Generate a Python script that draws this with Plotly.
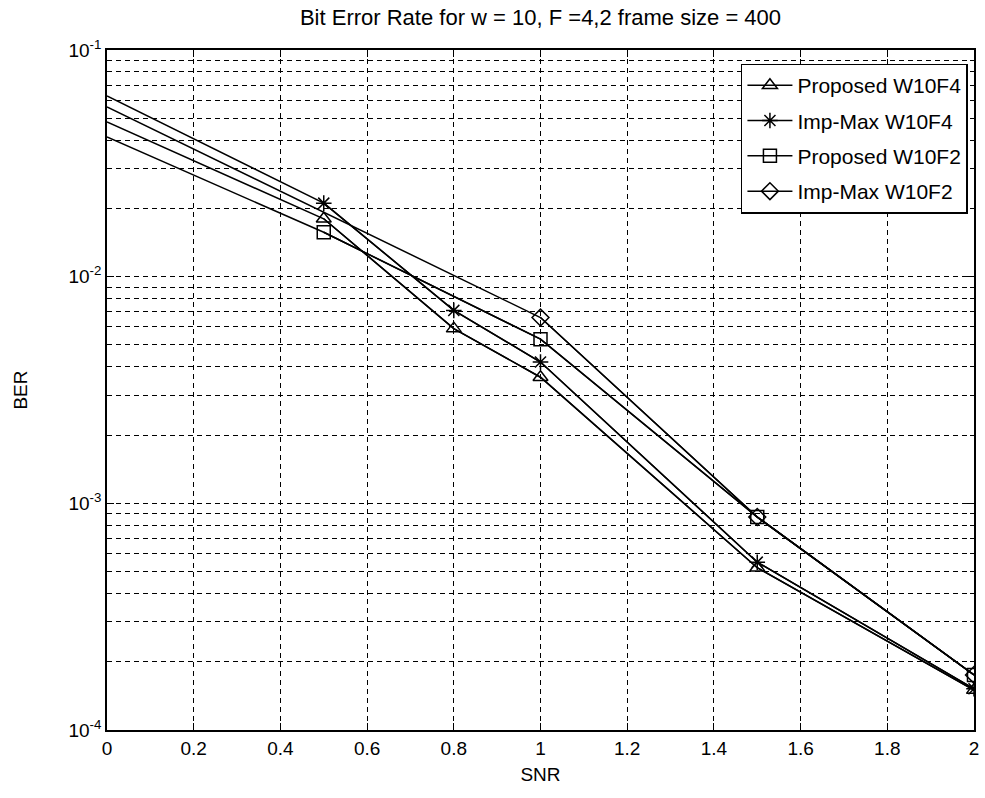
import plotly.graph_objects as go

# SNR sample points for each curve
snr_f4 = [0, 0.5, 0.8, 1, 1.5, 2]
snr_prop_f2 = [0, 0.5, 1, 1.5, 2]
snr_imp_f2 = [0, 1, 1.5, 2]

# Bit error rates
ber_prop_f4 = [0.0481, 0.0180, 0.0059, 0.0036, 5.2e-4, 1.5e-4]
ber_imp_f4 = [0.0627, 0.0211, 0.0071, 0.0042, 5.5e-4, 1.52e-4]
ber_prop_f2 = [0.0413, 0.0157, 0.0053, 8.7e-4, 1.75e-4]
ber_imp_f2 = [0.0561, 0.0066, 8.7e-4, 1.75e-4]

names = ["Proposed W10F4", "Imp-Max W10F4", "Proposed W10F2", "Imp-Max W10F2"]
symbols = ["triangle-up-open", "asterisk-open", "square-open", "diamond-open"]
xs = [snr_f4, snr_f4, snr_prop_f2, snr_imp_f2]
ys = [ber_prop_f4, ber_imp_f4, ber_prop_f2, ber_imp_f2]

x_ticks = [0, 0.2, 0.4, 0.6, 0.8, 1, 1.2, 1.4, 1.6, 1.8, 2]
decades = [-4, -3, -2, -1]

FONT = "Liberation Sans, Arial, sans-serif"
LINE = dict(color="black", width=1.5)

fig = go.Figure()
for i, (x, y, n, s) in enumerate(zip(xs, ys, names, symbols)):
    # full curve from SNR = 0
    fig.add_trace(go.Scatter(
        x=x, y=y, name=n, mode="lines", line=LINE,
        showlegend=False, legendgroup=f"g{i}", hoverinfo="skip",
    ))
    # marked points (the SNR = 0 start carries no marker)
    fig.add_trace(go.Scatter(
        x=x[1:], y=y[1:], name=n, mode="lines+markers", legendgroup=f"g{i}",
        line=LINE,
        marker=dict(symbol=s, size=13, color="black",
                    line=dict(color="black", width=1.5)),
    ))

# major ticks on decades, minor ticks/grid on 2..9 x 10^k
major_vals = [10.0 ** d for d in decades]
major_text = [f"10<sup>{d}</sup>" for d in decades]
minor_vals = [m * 10.0 ** d for d in decades[:-1] for m in range(2, 10)]

grid_style = dict(showgrid=True, gridcolor="black", gridwidth=1.3,
                  griddash="5px,4px")

axis_common = dict(
    showline=True, linecolor="black", linewidth=1.5, mirror="ticks",
    ticks="inside", ticklen=7, tickcolor="black", tickwidth=1,
    zeroline=False, tickfont=dict(family=FONT, size=19, color="black"),
    **grid_style,
)

fig.update_xaxes(
    range=[0, 2], tickvals=x_ticks, ticktext=[f"{v:g}" for v in x_ticks],
    title=dict(text="SNR", font=dict(family=FONT, size=19, color="black"),
               standoff=10),
    **axis_common,
)
fig.update_yaxes(
    type="log", range=[-4, -1], tickvals=major_vals, ticktext=major_text,
    minor=dict(tickmode="array", tickvals=minor_vals, ticks="inside",
               ticklen=4, tickcolor="black", **grid_style),
    title=dict(text="BER", font=dict(family=FONT, size=19, color="black"),
               standoff=36),
    **axis_common,
)

fig.update_layout(
    width=985, height=798,
    margin=dict(l=107, r=6, t=50, b=68),
    paper_bgcolor="white", plot_bgcolor="white",
    title=dict(text="Bit Error Rate for w = 10, F =4,2 frame size = 400",
               xref="paper", x=0.5, xanchor="center", y=0.988, yanchor="top",
               font=dict(family=FONT, size=22, color="black")),
    legend=dict(x=0.993, y=0.98, xanchor="right", yanchor="top",
                bgcolor="white", bordercolor="black", borderwidth=1.5,
                font=dict(family=FONT, size=21, color="black"),
                itemwidth=45, traceorder="grouped", tracegroupgap=5),
    showlegend=True,
)

fig.write_html("out.html")
